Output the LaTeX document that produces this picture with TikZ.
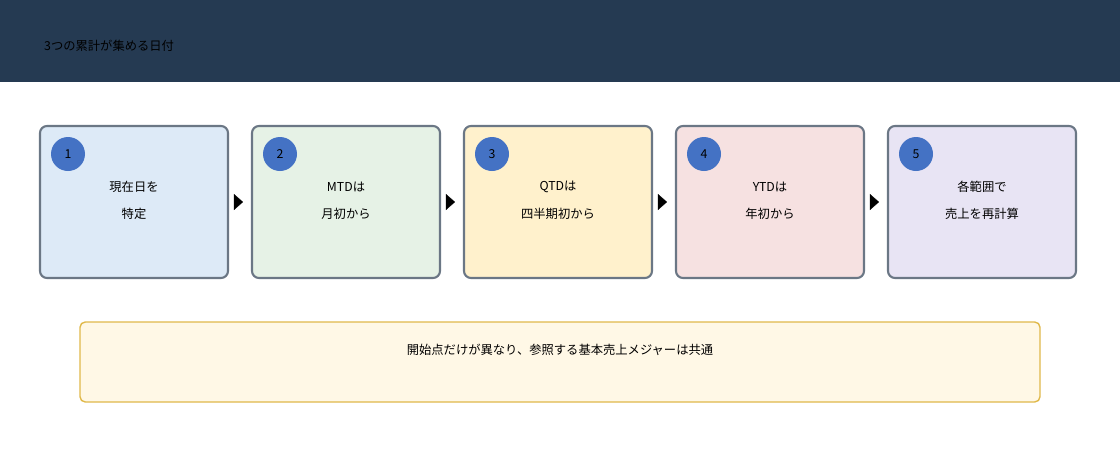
\documentclass[tikz,border=0pt]{standalone}
\usepackage{fontspec}
\setmainfont{Noto Sans CJK JP}
\usetikzlibrary{arrows.meta}
\definecolor{hdr}{HTML}{253A52}
\definecolor{bord}{HTML}{6B7785}
\definecolor{c1}{HTML}{DDEAF7}
\definecolor{c2}{HTML}{E6F2E6}
\definecolor{c3}{HTML}{FFF1CC}
\definecolor{c4}{HTML}{F6E1E1}
\definecolor{c5}{HTML}{E8E4F4}
\definecolor{blu}{HTML}{4472C4}
\definecolor{nfill}{HTML}{FFF8E6}
\definecolor{nbord}{HTML}{E0B94A}
\begin{document}
\begin{tikzpicture}[x=0.02cm,y=-0.02cm,
  stepbox/.style={draw=bord,line width=1.2pt,rounded corners=4pt,minimum width=188*0.02cm,minimum height=152*0.02cm,inner sep=0pt},
  num/.style={circle,fill=blu,minimum size=34*0.02cm,inner sep=0pt,font=\fontsize{7}{8}\selectfont},
  lbl/.style={font=\fontsize{7}{8}\selectfont,align=center},
  arr/.style={-{Triangle[length=9*0.02cm,width=16*0.02cm]},line width=0.1pt}]
\useasboundingbox (0,0) rectangle (1120,460);
\fill[hdr] (0,0) rectangle (1120,82);
\node[anchor=west,font=\fontsize{7}{8}\selectfont] (title) at (38,46) {3つの累計が集める日付};
\foreach \i/\x/\c/\a/\b in {1/134/c1/現在日を/特定,2/346/c2/MTDは/月初から,3/558/c3/QTDは/四半期初から,4/770/c4/YTDは/年初から,5/982/c5/各範囲で/売上を再計算}{
  \node[stepbox,fill=\c] (b\i) at (\x,202) {};
  \node[num] (n\i) at (\x-66,154) {\i};
  \node[lbl] (t\i) at (\x,187) {\a};
  \node[lbl] (u\i) at (\x,214) {\b};
}
\foreach \i/\j in {1/2,2/3,3/4,4/5}{
  \draw[arr,shorten <=7*0.02cm,shorten >=8*0.02cm] (b\i.east) -- (b\j.west);
}
\node[draw=nbord,fill=nfill,line width=0.8pt,rounded corners=3pt,minimum width=960*0.02cm,minimum height=80*0.02cm,inner sep=0pt] (note) at (560,362) {};
\node[lbl] (notet) at (560,350) {開始点だけが異なり、参照する基本売上メジャーは共通};
\end{tikzpicture}
\end{document}
